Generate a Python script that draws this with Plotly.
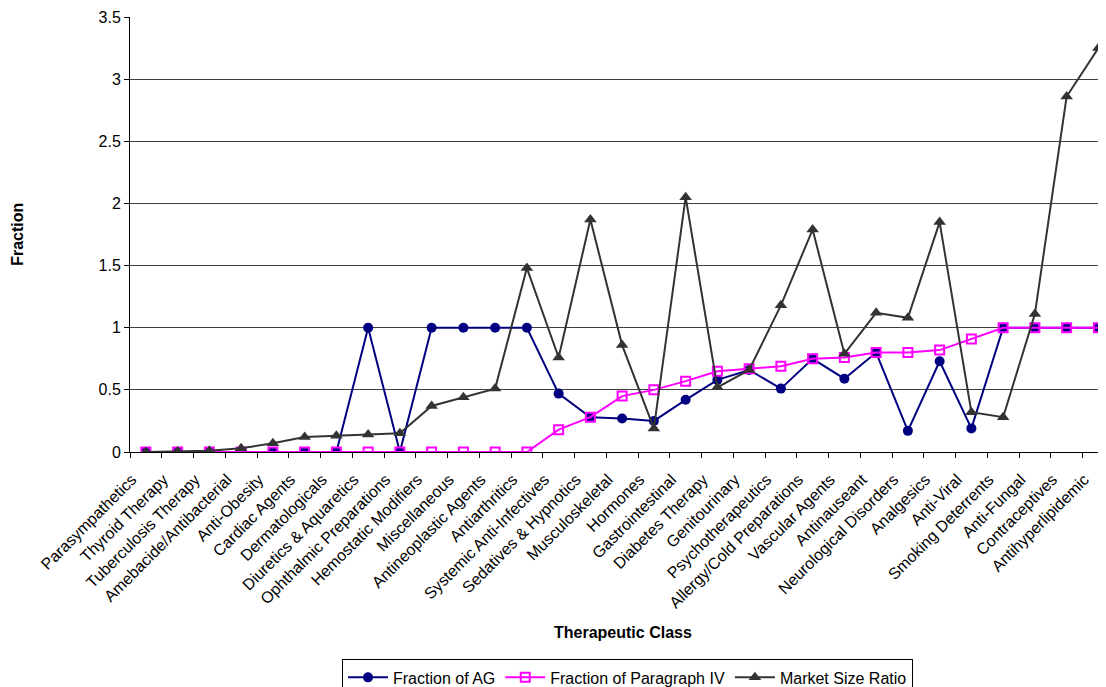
import plotly.graph_objects as go

categories = [
    "Parasympathetics", "Thyroid Therapy", "Tuberculosis Therapy", "Amebacide/Antibacterial",
    "Anti-Obesity", "Cardiac Agents", "Dermatologicals", "Diuretics & Aquaretics",
    "Ophthalmic Preparations", "Hemostatic Modifiers", "Miscellaneous", "Antineoplastic Agents",
    "Antiarthritics", "Systemic Anti-Infectives", "Sedatives & Hypnotics", "Musculoskeletal",
    "Hormones", "Gastrointestinal", "Diabetes Therapy", "Genitourinary", "Psychotherapeutics",
    "Allergy/Cold Preparations", "Vascular Agents", "Antinauseant", "Neurological Disorders",
    "Analgesics", "Anti-Viral", "Smoking Deterrents", "Anti-Fungal", "Contraceptives",
    "Antihyperlipidemic",
]

fraction_ag = [0, 0, 0, 0, 0, 0, 0, 1, 0, 1, 1, 1, 1, 0.47, 0.28, 0.27, 0.25, 0.42, 0.58,
               0.66, 0.51, 0.75, 0.59, 0.80, 0.17, 0.73, 0.19, 1, 1, 1, 1]

fraction_para_iv = [0, 0, 0, 0, 0, 0, 0, 0, 0, 0, 0, 0, 0, 0.18, 0.28, 0.45, 0.50, 0.57, 0.65,
                    0.67, 0.69, 0.75, 0.76, 0.80, 0.80, 0.82, 0.91, 1, 1, 1, 1]

market_size_ratio = [0.0, 0.005, 0.01, 0.03, 0.07, 0.12, 0.13, 0.14, 0.15, 0.37, 0.44, 0.51,
                     1.48, 0.76, 1.87, 0.86, 0.19, 2.05, 0.52, 0.66, 1.18, 1.79, 0.79, 1.12,
                     1.08, 1.85, 0.32, 0.28, 1.11, 2.86, 3.25]

y_ticks = [0, 0.5, 1, 1.5, 2, 2.5, 3, 3.5]

FONT = "Liberation Sans, Arial, sans-serif"

# The page body has an 8px margin, so the figure is sized to fill the rest of the window.
W, H = 1098, 679
ML, MT, MB = 122, 9, 235.3
PW, PH = W - ML, H - MT - MB


def px_to_paper(x_page, y_page):
    return (x_page - 8 - ML) / PW, 1 - (y_page - 8 - MT) / PH


fig = go.Figure()
fig.add_trace(go.Scatter(
    x=categories, y=fraction_ag, name="Fraction of AG", mode="lines+markers",
    line=dict(color="#000080", width=2),
    marker=dict(symbol="circle", size=10, color="#000080"),
))
fig.add_trace(go.Scatter(
    x=categories, y=fraction_para_iv, name="Fraction of Paragraph IV", mode="lines+markers",
    line=dict(color="#FF00FF", width=2),
    marker=dict(symbol="square-open", size=9, color="#FF00FF", line=dict(width=2, color="#FF00FF")),
))
fig.add_trace(go.Scatter(
    x=categories, y=market_size_ratio, name="Market Size Ratio", mode="lines+markers",
    line=dict(color="#333333", width=2),
    marker=dict(symbol="triangle-up", size=11, color="#333333"),
))

yt_x, yt_y = px_to_paper(16.7, 234)
xt_x, xt_y = px_to_paper(622.5, 632)
lg_x, lg_y = px_to_paper(627.5, 659)

fig.update_layout(
    width=W, height=H,
    margin=dict(l=ML, r=0, t=MT, b=MB, autoexpand=False),
    paper_bgcolor="white", plot_bgcolor="white",
    font=dict(family=FONT, size=16, color="black"),
    showlegend=True,
    legend=dict(
        orientation="h", x=lg_x, xanchor="center", y=lg_y, yanchor="top",
        bordercolor="black", borderwidth=1, bgcolor="white",
        font=dict(family=FONT, size=16, color="black"),
        itemwidth=40, tracegroupgap=0,
    ),
    xaxis=dict(
        type="category", categoryorder="array", categoryarray=categories,
        range=[-0.5, 30.24], tickangle=-45, tickfont=dict(family=FONT, size=16, color="black"),
        showline=True, linecolor="black", linewidth=1,
        ticks="outside", ticklen=5, tickcolor="black", tickson="boundaries",
        ticklabelshift=-14, ticklabelstandoff=11,
        showgrid=False, zeroline=False, automargin=False,
    ),
    yaxis=dict(
        range=[0, 3.5], tickvals=y_ticks, ticktext=[f"{v:g}" for v in y_ticks],
        tickfont=dict(family=FONT, size=16, color="black"),
        showline=True, linecolor="black", linewidth=1,
        ticks="outside", ticklen=5, tickcolor="black",
        showgrid=True, gridcolor="#404040", gridwidth=1, zeroline=False, automargin=False,
    ),
    annotations=[
        dict(text="<b>Fraction</b>", xref="paper", yref="paper",
             x=yt_x, y=yt_y, textangle=-90,
             showarrow=False, font=dict(family=FONT, size=16, color="black"),
             xanchor="center", yanchor="middle"),
        dict(text="<b>Therapeutic Class</b>", xref="paper", yref="paper",
             x=xt_x, y=xt_y,
             showarrow=False, font=dict(family=FONT, size=16, color="black"),
             xanchor="center", yanchor="middle"),
    ],
)

fig.write_html("out.html")
